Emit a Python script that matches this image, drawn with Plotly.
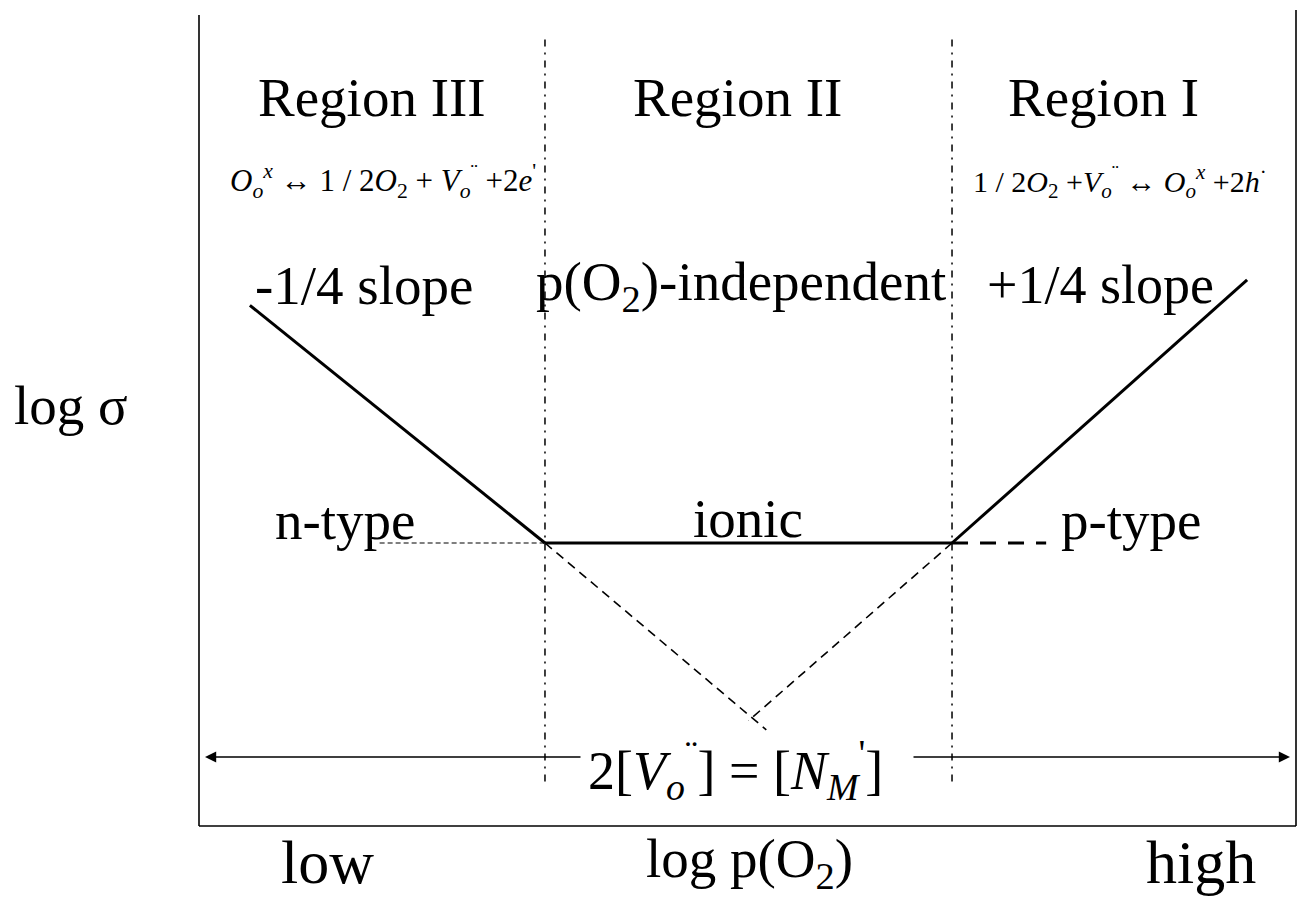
import plotly.graph_objects as go

# Defect-chemistry (Brouwer-type) diagram: log conductivity vs log oxygen partial pressure
# x = log p(O2) (arbitrary units), y = log sigma (arbitrary units)

n_branch_x = [-19.6, -8.0]
n_branch_y = [2.62, 0.0]
ionic_x = [-8.0, 8.0]
ionic_y = [0.0, 0.0]
p_branch_x = [8.0, 19.6]
p_branch_y = [0.0, 2.9]

n_ext_x = [-8.0, 0.7]
n_ext_y = [0.0, -2.06]
p_ext_x = [8.0, 0.0]
p_ext_y = [0.0, -1.96]
ionic_low_ext_x = [-14.5, -8.0]
ionic_low_ext_y = [0.0, 0.0]
ionic_high_ext_x = [8.0, 11.7]
ionic_high_ext_y = [0.0, 0.0]

boundary_x = [-8.0, 8.0]
boundary_y = [5.55, -2.65]

# pixel <-> data scale of the canvas
W, H = 1299, 924
X0_PX, PX_PER_X = 748.5, 25.44
Y0_PX, PX_PER_Y = 543.0, 90.7


def px2x(p):
    return (p - X0_PX) / PX_PER_X


def px2y(p):
    return (Y0_PX - p) / PX_PER_Y


FONT = "Liberation Serif, Times New Roman, serif"
INK = "black"

fig = go.Figure()


def add_line(xs, ys, width, dash="solid"):
    fig.add_trace(go.Scatter(x=xs, y=ys, mode="lines",
                             line=dict(color=INK, width=width, dash=dash),
                             hoverinfo="skip", showlegend=False))


add_line(n_branch_x, n_branch_y, 3)
add_line(ionic_x, ionic_y, 3.2)
add_line(p_branch_x, p_branch_y, 3)
add_line(n_ext_x, n_ext_y, 1.6, "9px,6px")
add_line(p_ext_x, p_ext_y, 1.6, "9px,6px")
add_line(ionic_low_ext_x, ionic_low_ext_y, 1.2, "5px,3px")
add_line(ionic_high_ext_x, ionic_high_ext_y, 3, "16px,12px")
for bx in boundary_x:
    add_line([bx, bx], boundary_y, 1.5, "7px,6px,2px,6px")

# open frame (left, bottom, right)
x_left, x_right = px2x(199), px2x(1296)
y_bottom = px2y(826)
for (xa, ya, xb, yb) in [(x_left, px2y(15), x_left, y_bottom),
                         (x_left, y_bottom, x_right, y_bottom),
                         (x_right, px2y(10), x_right, y_bottom)]:
    fig.add_shape(type="line", x0=xa, y0=ya, x1=xb, y1=yb,
                  xref="x", yref="y", line=dict(color=INK, width=1.6))

annotations = []


def text(s, px, py, size, xanchor="center"):
    annotations.append(dict(text=s, x=px2x(px), y=px2y(py), xref="x", yref="y",
                            showarrow=False, xanchor=xanchor, yanchor="middle",
                            font=dict(family=FONT, size=size, color=INK)))


text("Region III", 372, 97, 55)
text("Region II", 737, 97, 55)
text("Region I", 1103, 97, 55)

text("<i>O</i><sub><i>o</i></sub><sup><i>x</i></sup> \u2194 1 / 2<i>O</i><sub>2</sub> + "
     "<i>V</i><sub><i>o</i></sub><sup>\u00a8</sup> +2<i>e</i><sup>'</sup>", 383, 181, 31)
text("1 / 2<i>O</i><sub>2</sub> +<i>V</i><sub><i>o</i></sub><sup>\u00a8</sup> \u2194 "
     "<i>O</i><sub><i>o</i></sub><sup><i>x</i></sup> +2<i>h</i><sup>\u00b7</sup>", 1120, 181, 30)

text("-1/4 slope", 364, 285, 55)
text("p(O<sub>2</sub>)-independent", 741, 285, 55)
text("+1/4 slope", 1100, 285, 54)

text("n-type", 345, 520, 55)
text("ionic", 748, 518, 55)
text("p-type", 1131, 520, 55)

text("log \u03c3", 71, 405, 55)

text("low", 327, 862, 62)
text("log p(O<sub>2</sub>)", 749, 862, 55)
text("high", 1201, 862, 62)

text("2[<i>V</i><sub><i>o</i></sub><sup>\u00a8</sup>] = [<i>N</i><sub><i>M</i></sub><sup>'</sup>]",
     735, 770, 54)

# double-headed span arrow, interrupted by the equation
arrow_y = px2y(757)
for tail, head in [(px2x(582), px2x(205)), (px2x(912), px2x(1290))]:
    annotations.append(dict(x=head, y=arrow_y, ax=tail, ay=arrow_y,
                            xref="x", yref="y", axref="x", ayref="y",
                            text="", showarrow=True, arrowhead=2, arrowsize=1.6,
                            arrowwidth=1.4, arrowcolor=INK))

fig.update_layout(
    width=W, height=H,
    margin=dict(l=0, r=0, t=0, b=0),
    paper_bgcolor="white", plot_bgcolor="white",
    xaxis=dict(range=[px2x(0), px2x(W)], visible=False, fixedrange=True),
    yaxis=dict(range=[px2y(H), px2y(0)], visible=False, fixedrange=True),
    annotations=annotations,
    showlegend=False,
)

fig.write_html("out.html")
